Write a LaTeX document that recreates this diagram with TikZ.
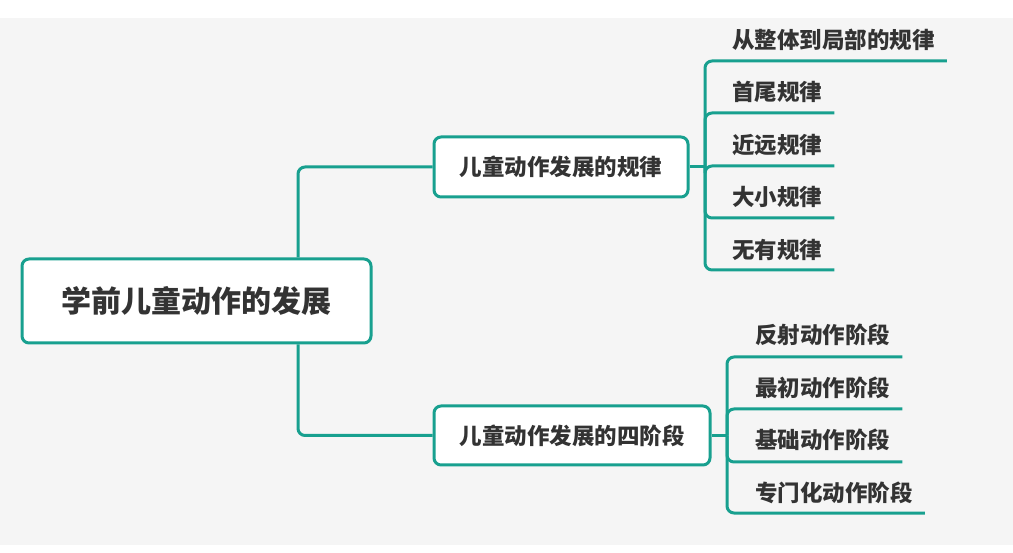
\documentclass[tikz,border=0pt]{standalone}
\usepackage{fontspec}
\newfontfamily\cjk{Noto Sans CJK SC}
\definecolor{teal1}{RGB}{24,160,143}
\definecolor{txt}{RGB}{51,51,51}
\definecolor{bg}{RGB}{245,245,245}
\tikzset{
  conn/.style={draw=teal1, line width=3pt, rounded corners=7pt},
  boxnode/.style={draw=teal1, line width=3pt, fill=white, rounded corners=7pt, font=\cjk\bfseries\fontsize{22.5}{26}\selectfont, text=txt, inner sep=0pt},
  rootnode/.style={boxnode, font=\cjk\bfseries\fontsize{30}{34}\selectfont},
  leaf/.style={anchor=west, inner sep=0pt, font=\cjk\bfseries\fontsize{22.5}{26}\selectfont, text=txt}
}
\begin{document}
\begin{tikzpicture}[x=1pt,y=-1pt]
\useasboundingbox (0,0) rectangle (1013,553);
\fill[white] (0,0) rectangle (1013,553);
\fill[bg] (0,18) rectangle (1013,545);
% main nodes
\node[rootnode, minimum width=349pt, minimum height=84pt] (root) at (196.5,301) {学前儿童动作的发展};
\node[boxnode, minimum width=254pt, minimum height=60pt] (b1) at (561,167) {儿童动作发展的规律};
\node[boxnode, minimum width=276pt, minimum height=59pt] (b2) at (572,435.5) {儿童动作发展的四阶段};
% leaves of b1
\node[leaf] (a1) at (732,40) {从整体到局部的规律};
\node[leaf] (a2) at (732,92) {首尾规律};
\node[leaf] (a3) at (732,145) {近远规律};
\node[leaf] (a4) at (732,197) {大小规律};
\node[leaf] (a5) at (732,250) {无有规律};
% leaves of b2
\node[leaf] (c1) at (755,335) {反射动作阶段};
\node[leaf] (c2) at (755,388) {最初动作阶段};
\node[leaf] (c3) at (755,440) {基础动作阶段};
\node[leaf] (c4) at (755,493) {专门化动作阶段};
% spines
\coordinate (s1) at (705,167);
\coordinate (s2) at (727,435.5);
% root connectors
\draw[conn] ([xshift=101.5pt]root.north) |- (b1.west);
\draw[conn] ([xshift=101.5pt]root.south) |- (b2.west);
\draw[conn] (b1.east) -- (s1);
\draw[conn] (b2.east) -- (s2);
\draw[conn] (s1) |- ([xshift=12pt,yshift=-21pt]a1.east);
\draw[conn] (s1) |- ([xshift=12pt,yshift=-21pt]a2.east);
\draw[conn] (s1) |- ([xshift=12pt,yshift=-21pt]a3.east);
\draw[conn] (s1) |- ([xshift=12pt,yshift=-21pt]a4.east);
\draw[conn] (s1) |- ([xshift=12pt,yshift=-20pt]a5.east);
\draw[conn] (s2) |- ([xshift=12pt,yshift=-22pt]c1.east);
\draw[conn] (s2) |- ([xshift=12pt,yshift=-21pt]c2.east);
\draw[conn] (s2) |- ([xshift=12pt,yshift=-22pt]c3.east);
\draw[conn] (s2) |- ([xshift=12pt,yshift=-20pt]c4.east);
\end{tikzpicture}
\end{document}
